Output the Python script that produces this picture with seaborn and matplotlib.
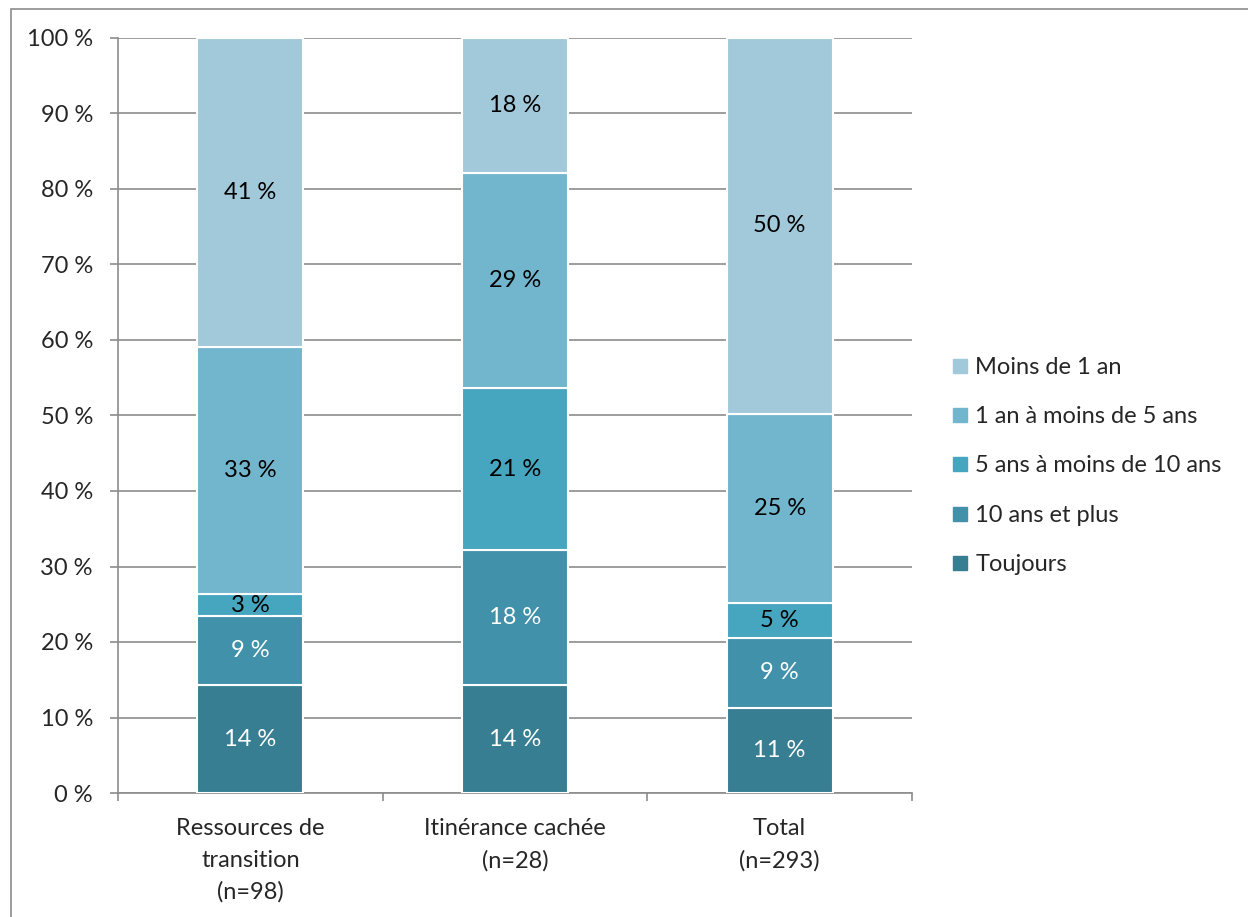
import matplotlib
matplotlib.use("Agg")
import matplotlib.pyplot as plt
import seaborn as sns
import numpy as np
from matplotlib.patches import Rectangle
from matplotlib.lines import Line2D

categories = ["Ressources de\ntransition\n(n=98)", "Itinérance cachée\n(n=28)", "Total\n(n=293)"]
series_names = ["Toujours", "10 ans et plus", "5 ans à moins de 10 ans",
                "1 an à moins de 5 ans", "Moins de 1 an"]
toujours = [14.3, 14.3, 11.3]
dix_plus = [9.1, 17.9, 9.2]
cinq_dix = [3.0, 21.4, 4.7]
un_cinq = [32.7, 28.5, 25.0]
moins_un = [40.9, 17.9, 49.8]
labels_toujours = ["14 %", "14 %", "11 %"]
labels_dix_plus = ["9 %", "18 %", "9 %"]
labels_cinq_dix = ["3 %", "21 %", "5 %"]
labels_un_cinq = ["33 %", "29 %", "25 %"]
labels_moins_un = ["41 %", "18 %", "50 %"]
yticks = [0, 10, 20, 30, 40, 50, 60, 70, 80, 90, 100]

colors = ["#387E92", "#4191AA", "#47A6BF", "#72B6CD", "#A2C9DA"]
text_colors = ["white", "white", "black", "black", "black"]

sns.set_theme(style="white")
plt.rcParams["font.family"] = ["Lato", "DejaVu Sans"]
FS = 17

fig = plt.figure(figsize=(12.48, 9.17), dpi=100)
ax = fig.add_axes([118/1248, 1-793/917, (912-118)/1248, (793-38)/917])

series = [toujours, dix_plus, cinq_dix, un_cinq, moins_un]
seg_labels = [labels_toujours, labels_dix_plus, labels_cinq_dix, labels_un_cinq, labels_moins_un]
bottom = np.zeros(len(categories))
for name, vals, col, tcol, labs in zip(series_names, series, colors, text_colors, seg_labels):
    sns.barplot(x=categories, y=vals, bottom=bottom, color=col, width=0.4, saturation=1,
                edgecolor="white", linewidth=1.5, ax=ax, zorder=3)
    for i, (v, lab) in enumerate(zip(vals, labs)):
        ax.text(i, bottom[i] + v / 2, lab, ha="center", va="center",
                color=tcol, fontsize=FS, zorder=4)
    bottom = bottom + np.array(vals)

ax.set_ylim(0, 100)
ax.set_xlim(-0.5, len(categories) - 0.5)
ax.set_yticks(yticks)
ax.set_yticklabels([f"{t} %" for t in yticks], fontsize=FS)
ax.yaxis.grid(True, color="#8c8c8c", linewidth=1.2, zorder=0)
ax.set_axisbelow(True)
for s in ["top", "right"]:
    ax.spines[s].set_visible(False)
for s in ["left", "bottom"]:
    ax.spines[s].set_color("#8c8c8c")
    ax.spines[s].set_linewidth(1.2)
ax.tick_params(axis="y", which="major", left=True, length=6, color="#8c8c8c", width=1.2, pad=12)
ax.tick_params(axis="x", which="major", length=0, pad=18, labelsize=FS)
ax.set_xticks(np.arange(-0.5, len(categories)), minor=True)
ax.tick_params(axis="x", which="minor", bottom=True, length=6, color="#8c8c8c", width=1.2)
for lbl in ax.get_xticklabels():
    lbl.set_linespacing(1.62)
ax.set_xlabel("")
ax.set_ylabel("")

handles = [Line2D([0], [0], marker="s", linestyle="", markersize=10,
                  markerfacecolor=c, markeredgecolor=c) for c in colors[::-1]]
fig.legend(handles, series_names[::-1], loc="center left",
           bbox_to_anchor=(940/1248, 1-466/917), frameon=False,
           fontsize=FS, labelspacing=1.2, handletextpad=0.2, handlelength=0.9,
           borderaxespad=0)

fig.patches.append(Rectangle((11/1248, -0.1), 1.2, (1-9/917) + 0.1,
                             transform=fig.transFigure, fill=False,
                             edgecolor="#8c8c8c", linewidth=1.2))

fig.savefig("out.png", dpi=100, facecolor="white")
